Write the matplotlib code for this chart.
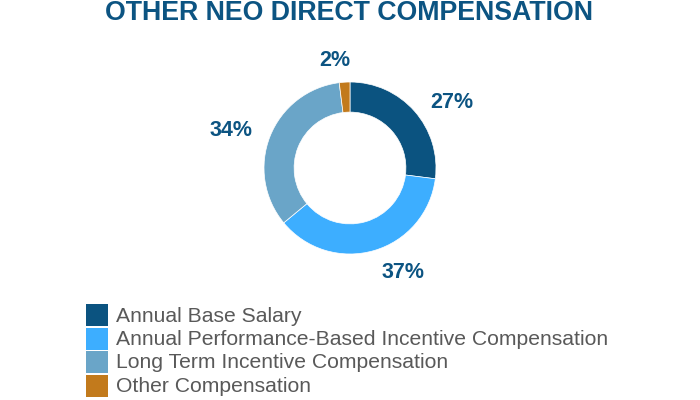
import matplotlib.pyplot as plt
from matplotlib.patches import Rectangle

categories = ['Annual Base Salary',
              'Annual Performance-Based Incentive Compensation',
              'Long Term Incentive Compensation',
              'Other Compensation']
values = [27, 37, 34, 2]
pct_labels = ['27%', '37%', '34%', '2%']
colors = ['#0b5380', '#3daeff', '#6aa5c8', '#c27a1c']
title_color = '#0c5482'

plt.rcParams['font.family'] = ['Liberation Sans', 'DejaVu Sans']

fig = plt.figure(figsize=(7, 4), dpi=100)
ax = fig.add_axes([0, 0, 1, 1])

# donut, y measured from the bottom
cx, cy, r = 350, 400 - 168, 86
ax.pie(values, colors=colors, startangle=90, counterclock=False,
       center=(cx, cy), radius=r, frame=True,
       wedgeprops=dict(width=r * 0.35, linewidth=0.5, edgecolor='white'))
ax.set_xlim(0, 700)
ax.set_ylim(0, 400)
ax.set_aspect('equal')
ax.axis('off')

# percent labels placed around the ring
label_pos = [(452, 103), (403, 272), (231, 131), (335, 60)]
for txt, (x, y) in zip(pct_labels, label_pos):
    ax.text(x, 400 - y, txt, ha='center', va='center', fontsize=15.5,
            fontweight='bold', color=title_color)

ax.text(349, 400 - 13, 'OTHER NEO DIRECT COMPENSATION', ha='center',
        va='center', fontsize=19.3, fontweight='bold', color=title_color)

# legend drawn by hand
for i, (lab, c) in enumerate(zip(categories, colors)):
    top = 304 + 23.5 * i
    ax.add_patch(Rectangle((86, 400 - top - 22), 22, 22, color=c, lw=0))
    ax.text(116, 400 - top - 12, lab, ha='left', va='center',
            fontsize=15.2, color='#595959')

plt.savefig('out.png', dpi=100)
